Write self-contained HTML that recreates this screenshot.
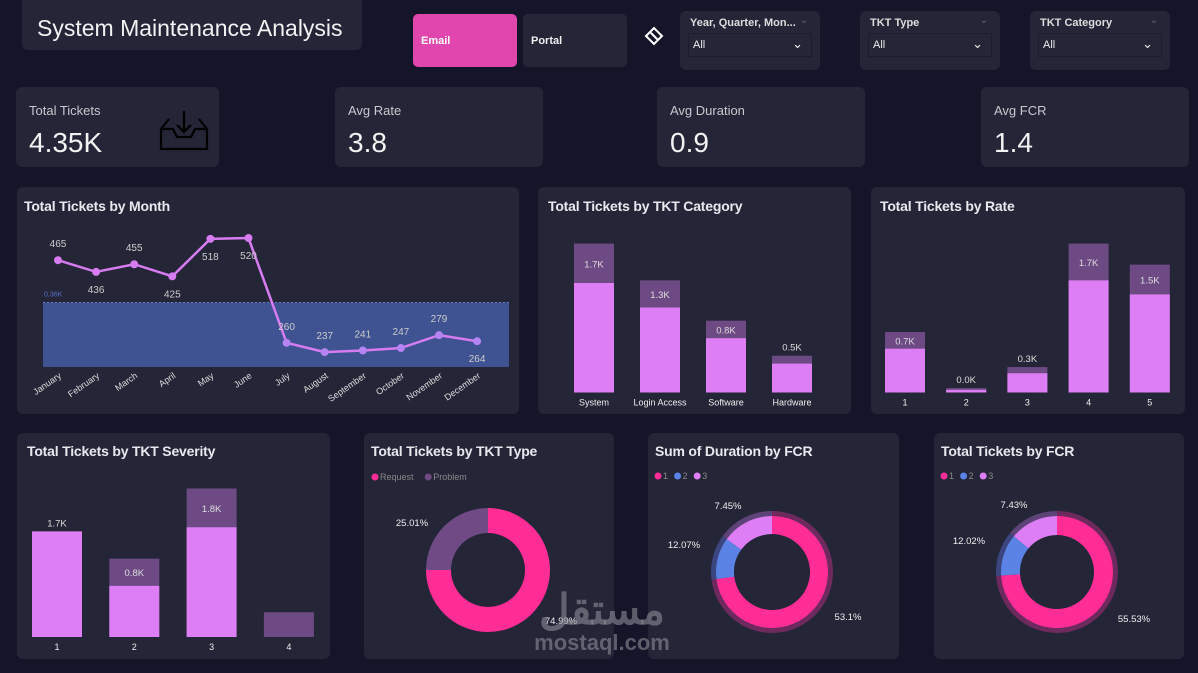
<!DOCTYPE html>
<html><head><meta charset="utf-8">
<style>
*{box-sizing:border-box;margin:0;padding:0}
body{width:1198px;height:673px;background:#15152a;font-family:"Liberation Sans",sans-serif;position:relative;overflow:hidden;color:#eee}
.p{position:absolute;background:#252538;border-radius:6px}
.t{position:absolute;font-size:14px;font-weight:bold;color:#e8e8ee;letter-spacing:-0.2px}
.kl{position:absolute;left:13px;top:16px;font-size:13px;color:#c8c8d0}
.kv{position:absolute;left:13px;top:40px;font-size:28px;color:#f2f2f2}
.sl{position:absolute;background:#252538;border-radius:6px}
.sl .h{position:absolute;left:10px;top:6px;font-size:11px;font-weight:bold;color:#ddd}
.sl .hv{position:absolute;right:12px;top:4px;font-size:10px;color:#666}
.sl .b{position:absolute;left:8px;right:8px;top:22px;height:24px;border:1px solid #1c1c2c;font-size:11px;color:#eee;padding:5px 0 0 4px}
.sl .b span{position:absolute;right:8px;top:2px;font-size:13px}
svg{position:absolute;left:0;top:0}
</style></head><body>
<div class="p" style="left:22px;top:-6px;width:340px;height:56px"><div style="position:absolute;left:15px;top:21px;font-size:23px;color:#f2f2f2">System Maintenance Analysis</div></div>
<div style="position:absolute;left:413px;top:14px;width:104px;height:53px;background:#e046ae;border-radius:5px;font-size:11px;font-weight:bold;padding:21px 0 0 8px;color:#fff">Email</div>
<div style="position:absolute;left:523px;top:14px;width:104px;height:53px;background:#252538;border-radius:5px;font-size:11px;font-weight:bold;padding:21px 0 0 8px;color:#eee">Portal</div>
<svg width="30" height="30" style="left:638px;top:22px"><path d="M8 14 L16 6 L24 14 L16 22 Z M12 10 L20 18" fill="none" stroke="#fff" stroke-width="2"/></svg>
<div class="sl" style="left:680px;top:11px;width:140px;height:59px"><div class="h">Year, Quarter, Mon...</div><div class="hv">⌄</div><div class="b">All<span>⌄</span></div></div>
<div class="sl" style="left:860px;top:11px;width:140px;height:59px"><div class="h">TKT Type</div><div class="hv">⌄</div><div class="b">All<span>⌄</span></div></div>
<div class="sl" style="left:1030px;top:11px;width:140px;height:59px"><div class="h">TKT Category</div><div class="hv">⌄</div><div class="b">All<span>⌄</span></div></div>

<div class="p" style="left:16px;top:87px;width:203px;height:80px"><div class="kl">Total Tickets</div><div class="kv">4.35K</div>
<svg width="60" height="60" style="left:135px;top:12px"><path d="M18 20 L10 30 L10 50 L56 50 L56 30 L48 20 M10 30 L22 30 L26 38 L40 38 L44 30 L56 30 M33 12 L33 33 M26 26 L33 33 L40 26" fill="none" stroke="#000" stroke-width="2.2"/></svg></div>
<div class="p" style="left:335px;top:87px;width:208px;height:80px"><div class="kl">Avg Rate</div><div class="kv">3.8</div></div>
<div class="p" style="left:657px;top:87px;width:208px;height:80px"><div class="kl">Avg Duration</div><div class="kv">0.9</div></div>
<div class="p" style="left:981px;top:87px;width:208px;height:80px"><div class="kl">Avg FCR</div><div class="kv">1.4</div></div>

<div class="p" style="left:17px;top:187px;width:502px;height:227px"></div>
<div class="p" style="left:538px;top:187px;width:313px;height:227px"></div>
<div class="p" style="left:871px;top:187px;width:314px;height:227px"></div>
<div class="p" style="left:17px;top:433px;width:313px;height:226px"></div>
<div class="p" style="left:364px;top:433px;width:250px;height:226px"></div>
<div class="p" style="left:648px;top:433px;width:251px;height:226px"></div>
<div class="p" style="left:934px;top:433px;width:250px;height:226px"></div>
<div class="t" style="left:24px;top:198px">Total Tickets by Month</div>
<div class="t" style="left:548px;top:198px">Total Tickets by TKT Category</div>
<div class="t" style="left:880px;top:198px">Total Tickets by Rate</div>
<div class="t" style="left:27px;top:443px">Total Tickets by TKT Severity</div>
<div class="t" style="left:371px;top:443px">Total Tickets by TKT Type</div>
<div class="t" style="left:655px;top:443px">Sum of Duration by FCR</div>
<div class="t" style="left:941px;top:443px">Total Tickets by FCR</div>

<svg id="c" width="1198" height="673"></svg>
<div style="position:absolute;left:522px;top:590px;width:160px;text-align:center;color:rgba(140,140,150,0.6);font-family:'Liberation Sans','Noto Sans CJK SC',sans-serif">
<div style="font-size:42px;font-weight:bold;line-height:40px">مستقل</div><div style="font-size:22px;line-height:26px;font-weight:bold">mostaql.com</div></div>
<script>
const months=["January","February","March","April","May","June","July","August","September","October","November","December"];
const monthVals=[465,436,455,425,518,520,260,237,241,247,279,264];
const bandTop=360, bandBottom=200;
const catNames=["System","Login Access","Software","Hardware"];
const catTotal=[1.7,1.28,0.82,0.42];
const catSel=[1.25,0.97,0.62,0.33];
const catLabels=["1.7K","1.3K","0.8K","0.5K"];
const rateNames=["1","2","3","4","5"];
const rateTotal=[0.69,0.05,0.29,1.7,1.46];
const rateSel=[0.5,0.03,0.22,1.28,1.12];
const rateLabels=["0.7K","0.0K","0.3K","1.7K","1.5K"];
const sevNames=["1","2","3","4"];
const sevTotal=[1.28,0.95,1.8,0.3];
const sevSel=[1.28,0.62,1.33,0];
const sevLabels=["1.7K","0.8K","1.8K",""];
const typeNames=["Request","Problem"];
const typeVals=[74.99,25.01];
const fcrNames=["1","2","3"];
const durShares=[73,12,15];
const durLabels=["53.1%","12.07%","7.45%"];
const fcrShares=[74,12,14];
const fcrLabels=["55.53%","12.02%","7.43%"];
const NS="http://www.w3.org/2000/svg",svg=document.getElementById('c');
function el(t,a,txt){const e=document.createElementNS(NS,t);for(const k in a)e.setAttribute(k,a[k]);if(txt!==undefined)e.textContent=txt;svg.appendChild(e);return e;}
const ly=v=>447.6-v*0.403, lx=i=>58+i*38.1;
let band=el('rect',{x:43,y:ly(bandTop),width:466,height:ly(bandBottom)-ly(bandTop),fill:'#3f5291'});

let bl=el('line',{x1:43,x2:509,y1:ly(bandTop),y2:ly(bandTop),stroke:'#6a7cc0','stroke-dasharray':'2 2'});

let bt=el('text',{x:44,y:ly(bandTop)-6,'font-size':7,fill:'#5a70c8'},'0.36K');

let pts=monthVals.map((v,i)=>lx(i)+','+ly(v)).join(' ');
let ln=el('polyline',{points:pts,fill:'none',stroke:'#d67cf0','stroke-width':2.5});

const below=[false,true,false,true,true,true,false,false,false,false,false,true];
monthVals.forEach((v,i)=>{
 let c=el('circle',{cx:lx(i),cy:ly(v),r:4,fill:v<bandTop?'#b384f2':'#d67cf0'});
 
 let t=el('text',{x:lx(i),y:below[i]?ly(v)+21:ly(v)-13,'font-size':10,fill:'#ccc','text-anchor':'middle'},v);
 
 let m=el('text',{x:lx(i)+4,y:377,'font-size':9,fill:'#ddd','text-anchor':'end',transform:`rotate(-35 ${lx(i)+4} 377)`},months[i]);
 
});
function bars(names,tot,sel,labels,x0,step,w,base,scale,key){
 names.forEach((n,i)=>{
  const x=x0+i*step,ht=tot[i]*scale,hs=sel[i]*scale;
  let a=el('rect',{x:x,y:base-ht,width:w,height:ht,fill:'#6e4a85'});
  
  if(hs>0){let b=el('rect',{x:x,y:base-hs,width:w,height:hs,fill:'#de7ef4'});
  }
  if(labels[i]){let ly2=ht-hs>16?base-ht+(ht-hs)/2+4:base-ht-5;
  let t=el('text',{x:x+w/2,y:ly2,'font-size':9.5,fill:'#ddd','text-anchor':'middle'},labels[i]);
  }
  let c=el('text',{x:x+w/2,y:base+13,'font-size':9,fill:'#eee','text-anchor':'middle'},n);
  
 });
}
bars(catNames,catTotal,catSel,catLabels,574,66,40,392.5,87.6,'category');
bars(rateNames,rateTotal,rateSel,rateLabels,885,61.2,40,392.5,87.6,'rate');
bars(sevNames,sevTotal,sevSel,sevLabels,32,77.3,50,637,82.5,'severity');
function arc(cx,cy,r0,r1,a0,a1){const p=(r,a)=>[cx+r*Math.sin(a),cy-r*Math.cos(a)];const L=a1-a0>Math.PI?1:0;
 const [x1,y1]=p(r1,a0),[x2,y2]=p(r1,a1),[x3,y3]=p(r0,a1),[x4,y4]=p(r0,a0);
 return `M${x1} ${y1}A${r1} ${r1} 0 ${L} 1 ${x2} ${y2}L${x3} ${y3}A${r0} ${r0} 0 ${L} 0 ${x4} ${y4}Z`;}
function donut(vals,cols,outer,cx,cy,key,r0,r1){
 const s=vals.reduce((a,b)=>a+b,0);let a=0;
 vals.forEach((v,i)=>{const a1=a+v/s*2*Math.PI;
  if(outer){let o=el('path',{d:arc(cx,cy,r1,r1+5,a,a1),fill:outer[i]});}
  let p=el('path',{d:arc(cx,cy,r0,r1,a,a1),fill:cols[i]});
  a=a1;});
}
function legend(names,cols,x,y,key){let cx=x;names.forEach((n,i)=>{
 let c=el('circle',{cx:cx+3,cy:y-3,r:3.5,fill:cols[i]});
 let t=el('text',{x:cx+8,y:y,'font-size':9,fill:'#888'},n);
 cx+=n.length*5.6+14;});}
legend(typeNames,['#ff2d95','#6f4a85'],372,480,'type');
donut(typeVals,['#ff2d95','#6f4a85'],null,488,570,'type',37,62);
[["25.01%",412,526],["74.99%",561,624]].forEach(l=>{let t=el('text',{x:l[1],y:l[2],'font-size':9.5,fill:'#eee','text-anchor':'middle'},l[0]);});
const fc=['#ff2d95','#5b83e6','#de7ef4'],fo=['#6e2a5e','#3b4680','#5e4378'];
legend(fcrNames,fc,655,479,'duration-fcr');
donut(durShares,fc,fo,772,572,'duration-fcr',38,56);
[[durLabels[0],848,620],[durLabels[1],684,548],[durLabels[2],728,509]].forEach(l=>{let t=el('text',{x:l[1],y:l[2],'font-size':9.5,fill:'#eee','text-anchor':'middle'},l[0]);});
legend(fcrNames,fc,941,479,'tickets-fcr');
donut(fcrShares,fc,fo,1057,572,'tickets-fcr',37,56);
[[fcrLabels[0],1134,622],[fcrLabels[1],969,544],[fcrLabels[2],1014,508]].forEach(l=>{let t=el('text',{x:l[1],y:l[2],'font-size':9.5,fill:'#eee','text-anchor':'middle'},l[0]);});
</script>
</body></html>
